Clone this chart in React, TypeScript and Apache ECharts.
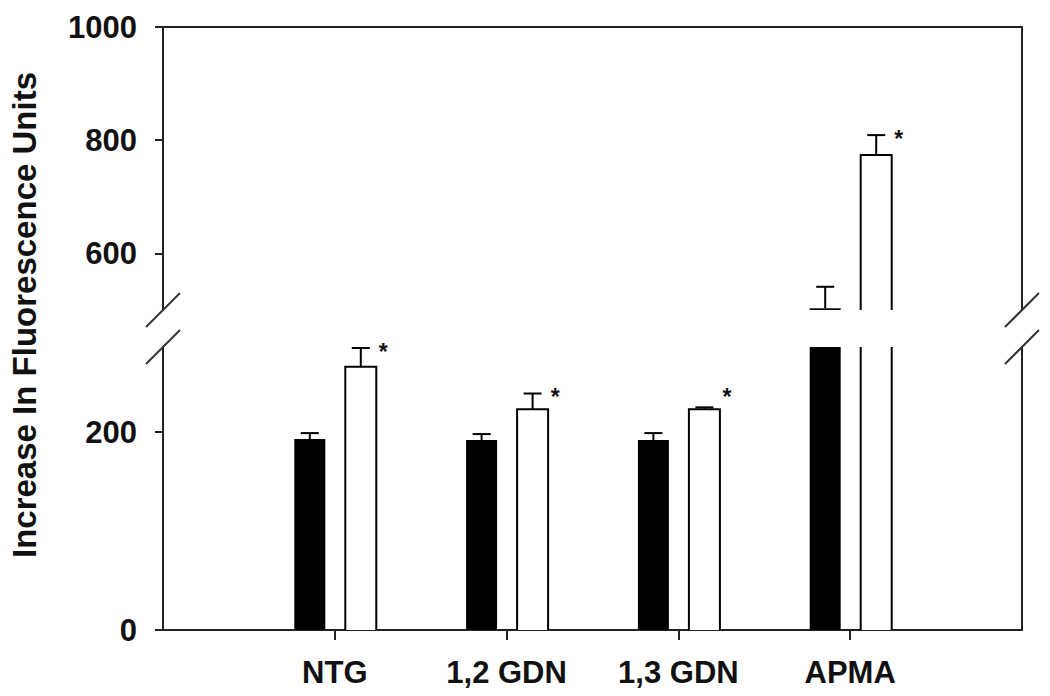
import React, { useEffect, useRef } from 'react';
import * as echarts from 'echarts';

// ---- data ----
const categories = ['NTG', '1,2 GDN', '1,3 GDN', 'APMA'];
const controlValues = [193, 192, 192, 503];
const controlErrors = [6, 6, 7, 38];
const treatedValues = [266, 223, 223, 774];
const treatedErrors = [19, 16, 2, 35];
const treatedSignificant = [1, 1, 1, 1];
const lowerTicks = [0, 200];
const upperTicks = [600, 800, 1000];
const lowerRange = [0, 286];
const upperRange = [500, 1000];
const categoryPositions = [1, 2, 3, 4];

// ---- styles ----
const FONT = '"Liberation Sans", Arial, sans-serif';
const INK = '#111';
const AXIS = '#222';
const BAR_W = 31;
const BLACK_OFFSET = -25;
const WHITE_OFFSET = 26;
const CAP_W = 18;

function makeRender(white: boolean, offset: number) {
  return (params: any, api: any) => {
    const cs = params.coordSys;
    const top = cs.y;
    const bottom = cs.y + cs.height;
    const cat = api.value(0);
    const v = api.value(1);
    const e = api.value(2);
    const sig = api.value(3);
    const [cx0, vy] = api.coord([cat, v]);
    const [, ey] = api.coord([cat, v + e]);
    const cx = cx0 + offset;
    const x0 = cx - BAR_W / 2;
    const x1 = cx + BAR_W / 2;
    const children: any[] = [];
    if (vy >= bottom) return { type: 'group', children };
    const inside = vy >= top - 0.5;
    const yTop = Math.max(vy, top);
    children.push({
      type: 'rect',
      shape: { x: x0, y: yTop, width: BAR_W, height: bottom - yTop },
      style: { fill: white ? '#fff' : '#000' },
    });
    const stroke = { stroke: '#000', lineWidth: 2, fill: 'none' };
    if (white) {
      if (inside) {
        children.push({
          type: 'polyline',
          shape: { points: [[x0, bottom], [x0, vy], [x1, vy], [x1, bottom]] },
          style: stroke,
        });
      } else {
        children.push({ type: 'line', shape: { x1: x0, y1: top, x2: x0, y2: bottom }, style: stroke });
        children.push({ type: 'line', shape: { x1: x1, y1: top, x2: x1, y2: bottom }, style: stroke });
      }
    }
    if (inside) {
      const capY = Math.max(ey, top);
      children.push({ type: 'line', shape: { x1: cx, y1: vy, x2: cx, y2: capY }, style: stroke });
      if (ey >= top - 1) {
        children.push({
          type: 'line',
          shape: { x1: cx - CAP_W / 2, y1: ey, x2: cx + CAP_W / 2, y2: ey },
          style: stroke,
        });
      }
      if (white && sig) {
        const sy = Math.min(ey, vy - 16) - 1 + 5;
        children.push({
          type: 'text',
          x: x1 + 7,
          y: sy,
          style: {
            text: '*',
            font: `bold 23px ${FONT}`,
            fill: INK,
            align: 'center',
            verticalAlign: 'middle',
          },
        });
      }
    }
    return { type: 'group', children };
  };
}

export default function App() {
  const ref = useRef<HTMLDivElement>(null);

  useEffect(() => {
    if (!ref.current) return;
    const chart = echarts.init(ref.current, undefined, { renderer: 'svg' });

    const controlData = categoryPositions.map((p, i) => [p, controlValues[i], controlErrors[i], 0]);
    const treatedData = categoryPositions.map((p, i) => [p, treatedValues[i], treatedErrors[i], treatedSignificant[i]]);

    const labelStyle = { color: INK, fontFamily: FONT, fontWeight: 'bold' as const, fontSize: 31 };
    const axisLine = { show: true, lineStyle: { color: AXIS, width: 2 } };
    const plain = (v: number) => String(v);

    const breakMarks: any[] = [];
    [163, 1022].forEach((bx) => {
      [310, 347].forEach((by) => {
        breakMarks.push({
          type: 'line',
          shape: { x1: bx - 17, y1: by + 17, x2: bx + 17, y2: by - 17 },
          style: { stroke: '#333', lineWidth: 2 },
          z: 10,
        });
      });
    });

    chart.setOption({
      animation: false,
      backgroundColor: '#fff',
      grid: [
        { left: 163, right: 28, top: 27, height: 283 },
        { left: 163, right: 28, top: 347, height: 283 },
      ],
      xAxis: [
        {
          gridIndex: 0,
          type: 'value',
          min: 0,
          max: 5,
          position: 'top',
          axisLine,
          axisTick: { show: false },
          axisLabel: { show: false },
          splitLine: { show: false },
        },
        {
          gridIndex: 1,
          type: 'value',
          min: 0,
          max: 5,
          position: 'bottom',
          axisLine,
          axisTick: { show: true, length: 10, lineStyle: { color: AXIS, width: 2 }, customValues: categoryPositions },
          axisLabel: {
            ...labelStyle,
            margin: 27,
            customValues: categoryPositions,
            formatter: (v: number) => categories[Math.round(v) - 1] ?? '',
          },
          splitLine: { show: false },
        },
      ],
      yAxis: [
        {
          gridIndex: 0,
          type: 'value',
          min: upperRange[0],
          max: upperRange[1],
          axisLine,
          axisTick: { show: true, length: 8, lineStyle: { color: AXIS, width: 2 }, customValues: upperTicks },
          axisLabel: { ...labelStyle, margin: 26, customValues: upperTicks, formatter: plain },
          splitLine: { show: false },
        },
        {
          gridIndex: 1,
          type: 'value',
          min: lowerRange[0],
          max: lowerRange[1],
          axisLine,
          axisTick: { show: true, length: 8, lineStyle: { color: AXIS, width: 2 }, customValues: lowerTicks },
          axisLabel: { ...labelStyle, margin: 26, customValues: lowerTicks, formatter: plain },
          splitLine: { show: false },
        },
        {
          gridIndex: 0,
          type: 'value',
          position: 'right',
          min: upperRange[0],
          max: upperRange[1],
          axisLine,
          axisTick: { show: false },
          axisLabel: { show: false },
          splitLine: { show: false },
        },
        {
          gridIndex: 1,
          type: 'value',
          position: 'right',
          min: lowerRange[0],
          max: lowerRange[1],
          axisLine,
          axisTick: { show: false },
          axisLabel: { show: false },
          splitLine: { show: false },
        },
      ],
      series: [
        { type: 'custom', name: 'control-upper', xAxisIndex: 0, yAxisIndex: 0, data: controlData, renderItem: makeRender(false, BLACK_OFFSET) },
        { type: 'custom', name: 'treated-upper', xAxisIndex: 0, yAxisIndex: 0, data: treatedData, renderItem: makeRender(true, WHITE_OFFSET) },
        { type: 'custom', name: 'control-lower', xAxisIndex: 1, yAxisIndex: 1, data: controlData, renderItem: makeRender(false, BLACK_OFFSET) },
        { type: 'custom', name: 'treated-lower', xAxisIndex: 1, yAxisIndex: 1, data: treatedData, renderItem: makeRender(true, WHITE_OFFSET) },
      ],
      graphic: [
        ...breakMarks,
        {
          type: 'text',
          x: 24,
          y: 315,
          rotation: Math.PI / 2,
          style: {
            text: 'Increase In Fluorescence Units',
            font: `bold 33px ${FONT}`,
            fill: INK,
            align: 'center',
            verticalAlign: 'middle',
          },
        },
      ],
    });

    return () => chart.dispose();
  }, []);

  return (
    <div
      ref={ref}
      style={{ position: 'fixed', left: 0, top: 0, width: 1050, height: 696, background: '#fff' }}
    />
  );
}
